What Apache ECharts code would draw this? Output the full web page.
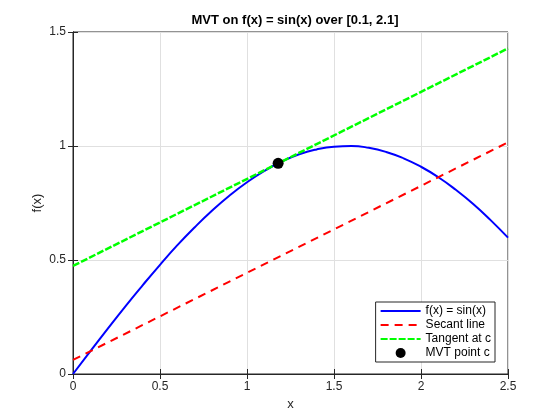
<!DOCTYPE html>
<html>
<head>
<meta charset="utf-8">
<script src="https://cdn.jsdelivr.net/npm/echarts@6/dist/echarts.min.js"></script>
<style>
  html, body { margin: 0; padding: 0; background: #fff; }
  #chart { width: 560px; height: 420px; }
</style>
</head>
<body>
<div id="chart"></div>
<script>
// values
var xs = [0, 0.1, 0.2, 0.3, 0.4, 0.5, 0.6, 0.7, 0.8, 0.9, 1.0, 1.1, 1.2,
          1.3, 1.4, 1.5, 1.6, 1.7, 1.8, 1.9, 2.0, 2.1, 2.2, 2.3, 2.4, 2.5];
var fx = [0, 0.100, 0.199, 0.296, 0.389, 0.479, 0.565, 0.644, 0.717, 0.783,
          0.841, 0.891, 0.932, 0.964, 0.985, 0.997, 1.000, 0.992, 0.974,
          0.946, 0.909, 0.863, 0.808, 0.746, 0.675, 0.598];
var secantX = [0, 2.5];
var secantY = [0.062, 1.016];
var tangentX = [0, 2.5];
var tangentY = [0.474, 1.428];
var pointC = [1.179, 0.924];

function pairs(a, b) {
    var out = [];
    for (var i = 0; i < a.length; i++) out.push([a[i], b[i]]);
    return out;
}

var myChart = echarts.init(document.getElementById('chart'));
var font = 'Liberation Sans, Arial, sans-serif';
function ticks() {
    return { show: true, inside: true, length: 5, lineStyle: { color: '#262626' } };
}
var labelStyle = { fontFamily: font, fontSize: 12, color: '#262626', margin: 7 };
var gridLine = { show: true, lineStyle: { color: '#e0e0e0' } };
var option = {
    animation: false,
    title: {
        text: 'MVT on f(x) = sin(x) over [0.1, 2.1]',
        left: 290, top: 9, textAlign: 'center',
        textStyle: { fontFamily: font, fontSize: 13, fontWeight: 'bold', color: '#000' }
    },
    grid: {
        left: 73, right: 52, top: 32, bottom: 46,
        show: true, borderColor: '#262626', borderWidth: 1, backgroundColor: '#fff'
    },
    legend: {
        orient: 'vertical', right: 65, bottom: 58,
        backgroundColor: '#fff', borderColor: '#262626', borderWidth: 1,
        padding: [3, 4, 3, 4], itemGap: 2,
        itemWidth: 40, itemHeight: 10,
        textStyle: { fontFamily: font, fontSize: 12, color: '#000' },
        data: [
            { name: 'f(x) = sin(x)', itemStyle: { opacity: 0 } },
            { name: 'Secant line', itemStyle: { opacity: 0 } },
            { name: 'Tangent at c', itemStyle: { opacity: 0 } },
            { name: 'MVT point c' }
        ]
    },
    xAxis: [{
        type: 'value', min: 0, max: 2.5, interval: 0.5,
        name: 'x', nameLocation: 'middle', nameGap: 22,
        nameTextStyle: { fontFamily: font, fontSize: 13, color: '#262626' },
        axisLine: { lineStyle: { color: '#262626' } },
        axisTick: ticks(), axisLabel: labelStyle, splitLine: gridLine
    }, {
        type: 'value', min: 0, max: 2.5, interval: 0.5, position: 'top',
        axisLine: { lineStyle: { color: '#262626' } },
        axisTick: ticks(), axisLabel: { show: false }, splitLine: { show: false }
    }],
    yAxis: [{
        type: 'value', min: 0, max: 1.5, interval: 0.5,
        name: 'f(x)', nameLocation: 'middle', nameGap: 29, nameMoveOverlap: false,
        nameTextStyle: { fontFamily: font, fontSize: 13, color: '#262626' },
        axisLine: { show: true, lineStyle: { color: '#262626' } },
        axisTick: ticks(), axisLabel: labelStyle, splitLine: gridLine
    }, {
        type: 'value', min: 0, max: 1.5, interval: 0.5, position: 'right',
        axisLine: { show: true, lineStyle: { color: '#262626' } },
        axisTick: ticks(), axisLabel: { show: false }, splitLine: { show: false }
    }],
    series: [
        {
            name: 'f(x) = sin(x)', type: 'line', data: pairs(xs, fx),
            smooth: true, showSymbol: false, symbol: 'none',
            lineStyle: { color: '#0000ff', width: 2 }, itemStyle: { color: '#0000ff' }
        },
        {
            name: 'Secant line', type: 'line', data: pairs(secantX, secantY),
            showSymbol: false, symbol: 'none',
            lineStyle: { color: '#ff0000', width: 2, type: [8, 6] }, itemStyle: { color: '#ff0000' }
        },
        {
            name: 'Tangent at c', type: 'line', data: pairs(tangentX, tangentY),
            showSymbol: false, symbol: 'none',
            lineStyle: { color: '#00ff00', width: 2.5, type: [7, 2] }, itemStyle: { color: '#00ff00' }
        },
        {
            name: 'MVT point c', type: 'scatter', data: [pointC], z: 5,
            symbolSize: 11, itemStyle: { color: '#000', opacity: 1 }
        }
    ]
};
myChart.setOption(option);
</script>
</body>
</html>
